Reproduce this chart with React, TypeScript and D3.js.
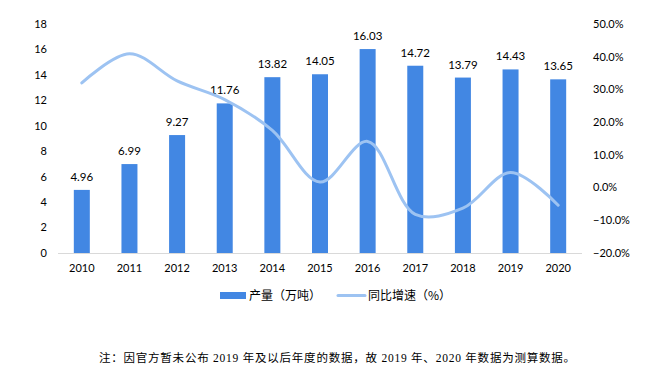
import React from "react";
import * as d3 from "d3";

const years = ["2010", "2011", "2012", "2013", "2014", "2015", "2016", "2017", "2018", "2019", "2020"];
const output = [4.96, 6.99, 9.27, 11.76, 13.82, 14.05, 16.03, 14.72, 13.79, 14.43, 13.65];
const growth = [32.0, 40.9, 32.6, 26.9, 17.5, 1.7, 14.1, -8.2, -6.3, 4.6, -5.4];
const leftTicks = [0, 2, 4, 6, 8, 10, 12, 14, 16, 18];
const rightTicks = [-20, -10, 0, 10, 20, 30, 40, 50];
const barName = "产量（万吨）";
const lineName = "同比增速（%）";
const note = "注：因官方暂未公布 2019 年及以后年度的数据，故 2019 年、2020 年数据为测算数据。";

const W = 658;
const H = 386;
const plot = { left: 58, right: 582, top: 24, bottom: 253 };
const barColor = "#4287E3";
const lineColor = "#9DC3F2";
const axisFont = "Lato, 'Noto Sans', sans-serif";
const cjkFont = "'Noto Sans CJK SC', sans-serif";

export default function App() {
  const x = d3.scaleBand().domain(years).range([plot.left, plot.right]).paddingInner(0).paddingOuter(0);
  const yL = d3.scaleLinear().domain([0, 18]).range([plot.bottom, plot.top]);
  const yR = d3.scaleLinear().domain([-20, 50]).range([plot.bottom, plot.top]);
  const barW = 16;
  const cx = (y: string) => (x(y) as number) + x.bandwidth() / 2;

  const line = d3
    .line<number>()
    .x((_, i) => cx(years[i]))
    .y((d) => yR(d))
    .curve(d3.curveCatmullRom.alpha(0.5));

  return (
    <svg width={W} height={H} style={{ position: "absolute", left: 0, top: 0, background: "#fff" }}>
      <rect width={W} height={H} fill="#fff" />
      {/* left axis */}
      {leftTicks.map((t) => (
        <text key={"l" + t} x={47} y={yL(t)} dy="0.35em" textAnchor="end" fontSize={11} fontFamily={axisFont} fill="#000">
          {t}
        </text>
      ))}
      {/* right axis */}
      {rightTicks.map((t) => (
        <text key={"r" + t} x={593} y={yR(t)} dy="0.35em" textAnchor="start" fontSize={11} fontFamily={axisFont} fill="#000">
          {d3.format(".1f")(t) + "%"}
        </text>
      ))}
      {/* bars */}
      {output.map((v, i) => (
        <g key={"b" + i}>
          <rect x={cx(years[i]) - barW / 2} y={yL(v)} width={barW} height={plot.bottom - yL(v)} fill={barColor} />
          <text x={cx(years[i])} y={yL(v) - 9} textAnchor="middle" fontSize={11.5} fontFamily={axisFont} fill="#000">
            {v.toFixed(2)}
          </text>
        </g>
      ))}
      <line x1={plot.left} x2={plot.right} y1={plot.bottom + 0.5} y2={plot.bottom + 0.5} stroke="#d9d9d9" strokeWidth={1} />
      {/* x labels */}
      {years.map((y) => (
        <text key={"x" + y} x={cx(y)} y={268} dy="0.35em" textAnchor="middle" fontSize={11} fontFamily={axisFont} fill="#000">
          {y}
        </text>
      ))}
      {/* growth line */}
      <path d={line(growth) || ""} fill="none" stroke={lineColor} strokeWidth={3} strokeLinecap="round" />
      {/* legend */}
      <rect x={220} y={292} width={26} height={7} fill={barColor} />
      <text x={249} y={296} dy="0.35em" fontSize={12} fontFamily={cjkFont} fill="#000">
        {barName}
      </text>
      <line x1={338} x2={365} y1={295.5} y2={295.5} stroke={lineColor} strokeWidth={3} strokeLinecap="round" />
      <text x={368} y={296} dy="0.35em" fontSize={12} fontFamily={cjkFont} fill="#000">
        {lineName}
      </text>
      {/* note */}
      <text x={99} y={358} dy="0.35em" fontSize={11.5} textLength={476} lengthAdjust="spacing" fontFamily={"'Liberation Serif', 'Noto Sans CJK SC', serif"} fill="#000">
        {note}
      </text>
    </svg>
  );
}
